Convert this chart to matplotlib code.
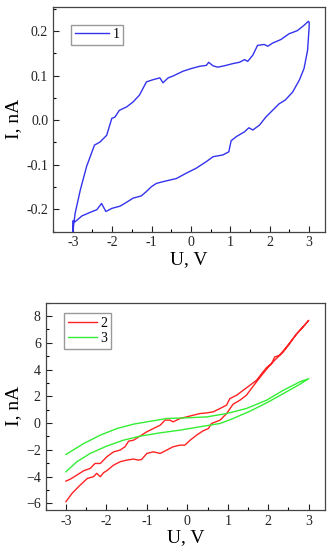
import matplotlib.pyplot as plt
from matplotlib.ticker import MultipleLocator

plt.rcParams['font.family'] = ['Liberation Serif', 'DejaVu Serif']

# curve 1 (top panel), loop: upper branch left->right, lower branch right->left
u1 = [-3.0, -2.94, -2.81, -2.65, -2.45, -2.31, -2.14, -2.01, -1.93, -1.82, -1.63, -1.47,
      -1.31, -1.13, -0.96, -0.79, -0.71, -0.58, -0.46, -0.20, 0.01, 0.22, 0.39, 0.45,
      0.56, 0.68, 0.89, 1.06, 1.23, 1.36, 1.44, 1.57, 1.69, 1.86, 1.95, 2.07, 2.28,
      2.49, 2.70, 2.87, 2.98, 3.0,
      3.0, 2.96, 2.87, 2.75, 2.58, 2.39, 2.24, 2.07, 1.90, 1.74, 1.57, 1.47, 1.36,
      1.15, 1.02, 0.96, 0.81, 0.56, 0.39, 0.13, -0.12, -0.37, -0.71, -0.88, -1.0,
      -1.13, -1.26, -1.47, -1.63, -1.80, -2.01, -2.16, -2.27, -2.39, -2.56, -2.77,
      -2.94, -3.0, -3.0]
i1 = [-0.25, -0.209, -0.157, -0.104, -0.056, -0.049, -0.034, 0.004, 0.007, 0.022, 0.030,
      0.041, 0.056, 0.086, 0.091, 0.095, 0.084, 0.095, 0.099, 0.110, 0.116, 0.121,
      0.123, 0.130, 0.122, 0.119, 0.123, 0.127, 0.130, 0.136, 0.132, 0.146, 0.168,
      0.170, 0.166, 0.173, 0.181, 0.194, 0.201, 0.213, 0.222, 0.220,
      0.209, 0.157, 0.116, 0.090, 0.063, 0.045, 0.037, 0.022, 0.007, -0.011, -0.022,
      -0.017, -0.026, -0.037, -0.046, -0.071, -0.078, -0.082, -0.093, -0.108, -0.119,
      -0.131, -0.138, -0.142, -0.149, -0.160, -0.170, -0.175, -0.184, -0.193, -0.198,
      -0.205, -0.187, -0.201, -0.207, -0.215, -0.228, -0.226, -0.25]

# curve 2 (bottom panel, red)
u2 = [-3.0, -2.85, -2.69, -2.56, -2.47, -2.32, -2.24, -2.15, -2.07, -1.99, -1.82, -1.66,
      -1.50, -1.33, -1.21, -1.13, -1.0, -0.84, -0.67, -0.51, -0.35, -0.18, -0.06, 0.07,
      0.23, 0.39, 0.52, 0.60, 0.81, 0.97, 1.13, 1.30, 1.46, 1.55, 1.71, 1.87, 2.04,
      2.20, 2.37, 2.53, 2.70, 2.86, 3.0,
      2.78, 2.61, 2.45, 2.28, 2.16, 2.08, 1.96, 1.87, 1.71, 1.55, 1.38, 1.22, 1.05,
      0.97, 0.81, 0.64, 0.48, 0.31, 0.15, -0.02, -0.18, -0.35, -0.43, -0.55, -0.67,
      -0.84, -1.0, -1.17, -1.33, -1.45, -1.54, -1.66, -1.82, -1.99, -2.15, -2.28,
      -2.40, -2.56, -2.73, -2.89, -3.0]
i2 = [-5.88, -5.26, -4.76, -4.39, -4.14, -4.01, -3.76, -4.01, -3.71, -3.56, -3.14, -2.89,
      -2.77, -2.69, -2.77, -2.72, -2.27, -2.15, -2.27, -2.02, -1.77, -1.65, -1.65, -1.28,
      -0.90, -0.58, -0.41, -0.03, 0.22, 0.71, 1.41, 1.71, 2.08, 2.45, 3.08, 3.70,
      4.32, 4.82, 5.31, 5.94, 6.68, 7.18, 7.68,
      6.93, 6.31, 5.69, 5.07, 4.94, 4.44, 4.15, 3.82, 3.20, 2.83, 2.45, 2.08, 1.83,
      1.34, 1.09, 0.84, 0.76, 0.71, 0.59, 0.46, 0.34, 0.09, 0.22, 0.22, -0.16, -0.41,
      -0.65, -0.98, -1.28, -1.35, -1.77, -2.02, -2.15, -2.52, -3.02, -3.02, -3.39,
      -3.56, -3.89, -4.19, -4.34]

# curve 3 (bottom panel, green)
u3 = [-3.0, -2.73, -2.40, -1.99, -1.58, -1.17, -0.67, -0.18, 0.31, 0.81, 1.13, 1.55,
      1.96, 2.37, 2.78, 3.0,
      2.78, 2.37, 1.96, 1.46, 0.97, 0.48, -0.02, -0.51, -1.0, -1.33, -1.74, -2.15,
      -2.56, -3.0]
i3 = [-3.64, -2.89, -2.27, -1.72, -1.28, -0.98, -0.73, -0.53, -0.28, -0.03, 0.34, 0.89,
      1.51, 2.20, 2.90, 3.32,
      3.08, 2.45, 1.71, 1.09, 0.71, 0.46, 0.39, 0.34, 0.09, -0.08, -0.41, -0.90,
      -1.53, -2.35]

fig = plt.figure(figsize=(3.36, 5.5), dpi=100)
ax1 = fig.add_axes([0.158, 0.579, 0.809, 0.409])
ax2 = fig.add_axes([0.136, 0.0727, 0.831, 0.377])

ax1.plot(u1, i1, color='#3333ee', lw=1.0, label='1')
ax2.plot(u2, i2, color='#ff2222', lw=1.0, label='2')
ax2.plot(u3, i3, color='#33ee33', lw=1.0, label='3')

ax1.set_xlim(-3.5, 3.4)
ax1.set_ylim(-0.25, 0.255)
ax1.set_yticks([-0.2, -0.1, 0.0, 0.1, 0.2])
ax1.set_yticklabels(['-0.2', '-0.1', '0.0', '0.1', '0.2'])
ax1.yaxis.set_minor_locator(MultipleLocator(0.05))

ax2.set_xlim(-3.5, 3.4)
ax2.set_ylim(-6.5, 9)
ax2.yaxis.set_major_locator(MultipleLocator(2))
ax2.yaxis.set_minor_locator(MultipleLocator(1))

for ax in (ax1, ax2):
    ax.set_xticks([-3, -2, -1, 0, 1, 2, 3])
    ax.set_xticklabels(['-3', '-2', '-1', '0', '1', '2', '3'])
    ax.xaxis.set_minor_locator(MultipleLocator(0.5))
    ax.tick_params(which='major', direction='in', length=4, width=0.8, labelsize=10,
                   colors='#222222')
    ax.tick_params(which='minor', direction='in', length=2, width=0.8)
    for s in ax.spines.values():
        s.set_color('#444444')
        s.set_linewidth(0.9)
    ax.set_xlabel('U, V', fontsize=14, labelpad=1)
    ax.set_ylabel('I, nA', fontsize=14, labelpad=3)

ax1.legend(loc='upper left', bbox_to_anchor=(0.066, 0.919), fontsize=10,
           fancybox=False, edgecolor='#999999', framealpha=1, handlelength=2.45,
           handletextpad=0.3, borderpad=0.25, borderaxespad=0)
ax2.legend(loc='upper left', bbox_to_anchor=(0.066, 0.95), fontsize=10,
           fancybox=False, edgecolor='#999999', framealpha=1, handlelength=2.1,
           handletextpad=0.25, borderpad=0.25, labelspacing=0.2, borderaxespad=0)

fig.savefig('out.png', dpi=100)
